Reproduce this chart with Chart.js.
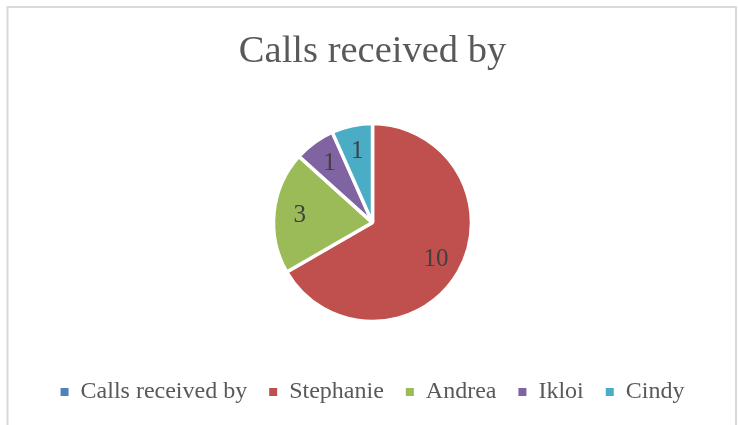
<!DOCTYPE html>
<html>
<head>
<meta charset="utf-8">
<script src="https://cdn.jsdelivr.net/npm/chart.js@4.4.0/dist/chart.umd.min.js"></script>
<style>
  body { margin: 0; background: #fff; }
  #wrap { position: relative; width: 739px; height: 425px; }
</style>
</head>
<body>
<div id="wrap"><canvas id="pieChart" width="739" height="425"></canvas></div>
<script>
var chartTitle = "Calls received by";
var categories = ["Calls received by", "Stephanie", "Andrea", "Ikloi", "Cindy"];
var calls = [0, 10, 3, 1, 1];
var sliceColors = ["#4F81BD", "#C0504D", "#9BBB59", "#8064A2", "#4BACC6"];

// grey frame like the office chart border
var framePlugin = {
  id: 'frame',
  beforeDraw: function(chart) {
    var ctx = chart.ctx;
    ctx.save();
    ctx.strokeStyle = '#d9d9d9';
    ctx.lineWidth = 2;
    ctx.beginPath();
    ctx.moveTo(7.5, 430);
    ctx.lineTo(7.5, 7);
    ctx.lineTo(736, 7);
    ctx.lineTo(736, 430);
    ctx.stroke();
    ctx.restore();
  }
};

// value labels inside the slices
var sliceLabels = {
  id: 'sliceLabels',
  afterDatasetsDraw: function(chart) {
    var ctx = chart.ctx;
    var meta = chart.getDatasetMeta(0);
    ctx.save();
    ctx.font = '25px "Liberation Serif"';
    ctx.fillStyle = '#404040';
    ctx.textAlign = 'center';
    ctx.textBaseline = 'middle';
    meta.data.forEach(function(arc, i) {
      var v = chart.data.datasets[0].data[i];
      if (!v) return;
      var p = arc.getProps(['x', 'y', 'startAngle', 'endAngle', 'outerRadius'], true);
      var mid = (p.startAngle + p.endAngle) / 2;
      var r = p.outerRadius * 0.74;
      ctx.fillText(String(v), p.x + Math.cos(mid) * r, p.y + Math.sin(mid) * r);
    });
    ctx.restore();
  }
};

var ctxP = document.getElementById("pieChart").getContext('2d');
var myPieChart = new Chart(ctxP, {
  type: 'pie',
  data: {
    labels: categories,
    datasets: [{
      data: calls,
      backgroundColor: sliceColors,
      borderColor: '#ffffff',
      borderWidth: 3.5,
      radius: 99
    }]
  },
  options: {
    responsive: false,
    animation: false,
    layout: { padding: { top: 0, bottom: 11, left: 6, right: 0 } },
    plugins: {
      title: {
        display: true,
        text: chartTitle,
        color: '#595959',
        font: { family: '"Liberation Serif"', size: 38.5, weight: 'normal', lineHeight: 1.2 },
        padding: { top: 29, bottom: 12 }
      },
      legend: {
        position: 'bottom',
        labels: {
          color: '#595959',
          font: { family: '"Liberation Serif"', size: 24 },
          boxWidth: 8,
          boxHeight: 8,
          padding: 22,
          generateLabels: function(chart) {
            var items = Chart.overrides.pie.plugins.legend.labels.generateLabels(chart);
            items.forEach(function(it) { it.lineWidth = 0; it.strokeStyle = it.fillStyle; });
            return items;
          }
        }
      },
      tooltip: { enabled: false }
    }
  },
  plugins: [framePlugin, sliceLabels]
});
</script>
</body>
</html>
